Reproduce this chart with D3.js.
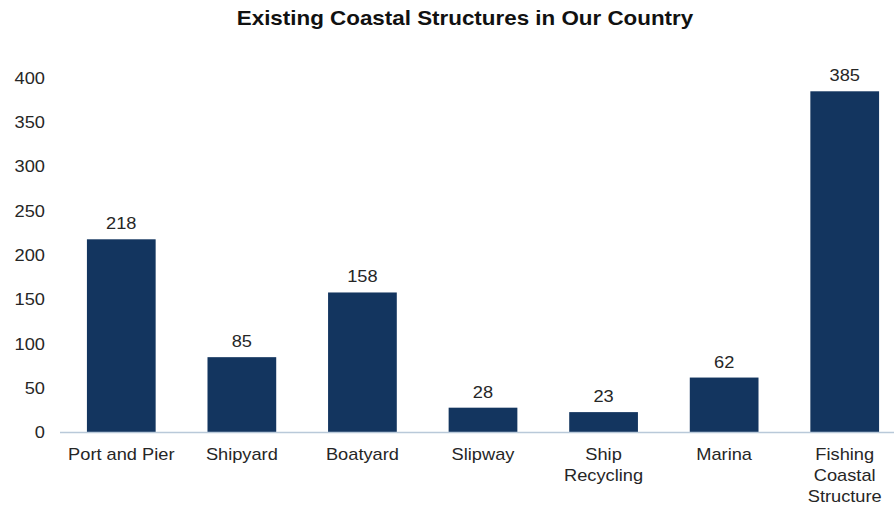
<!DOCTYPE html>
<html>
<head>
<meta charset="utf-8">
<script src="https://cdn.jsdelivr.net/npm/d3@7"></script>
<style>
  body { margin: 0; background: #fff; }
  text { font-family: "Liberation Sans", Arial, sans-serif; fill: #262626; }
</style>
</head>
<body>
<svg id="chart" width="894" height="508"></svg>
<script>
// data
const categories = ["Port and Pier", "Shipyard", "Boatyard", "Slipway", "Ship Recycling", "Marina", "Fishing Coastal Structure"];
const labelLines = [["Port and Pier"], ["Shipyard"], ["Boatyard"], ["Slipway"], ["Ship", "Recycling"], ["Marina"], ["Fishing", "Coastal", "Structure"]];
const values = [218, 85, 158, 28, 23, 62, 385];
const yTicks = [0, 50, 100, 150, 200, 250, 300, 350, 400];

const svg = d3.select("#chart");
const baseY = 432.5;
const topY = 78;
const stretch = 1.14; // the reference text is a bit wide

const x = d3.scaleBand()
  .domain(categories)
  .range([61, 905])
  .paddingInner(0.43)
  .paddingOuter(0.215);

const y = d3.scaleLinear()
  .domain([0, 400])
  .range([baseY, topY]);

function place(px, py) {
  return "translate(" + px + "," + py + ") scale(" + stretch + ",1)";
}

// title
svg.append("text")
  .attr("transform", "translate(465,25) scale(1.12,1)")
  .attr("text-anchor", "middle")
  .style("font-weight", "bold")
  .style("font-size", "20px")
  .style("fill", "#111")
  .text("Existing Coastal Structures in Our Country");

// y axis labels (no line)
svg.selectAll(".ytick")
  .data(yTicks)
  .enter()
  .append("text")
  .attr("class", "ytick")
  .attr("transform", d => place(45, y(d)))
  .attr("dy", "0.36em")
  .attr("text-anchor", "end")
  .style("font-size", "16px")
  .text(d => d);

// bars
svg.selectAll(".bar")
  .data(values)
  .enter()
  .append("rect")
  .attr("class", "bar")
  .attr("x", (d, i) => x(categories[i]))
  .attr("y", d => y(d))
  .attr("width", x.bandwidth())
  .attr("height", d => baseY - y(d))
  .style("fill", "#13355f");

// baseline
svg.append("line")
  .attr("x1", 60)
  .attr("x2", 894)
  .attr("y1", baseY)
  .attr("y2", baseY)
  .style("stroke", "#b9c9d9")
  .style("stroke-width", 1.5);

// value labels
svg.selectAll(".val")
  .data(values)
  .enter()
  .append("text")
  .attr("class", "val")
  .attr("transform", (d, i) => place(x(categories[i]) + x.bandwidth() / 2, y(d) - 10))
  .attr("text-anchor", "middle")
  .style("font-size", "16px")
  .text(d => d);

// category labels
const cat = svg.selectAll(".cat")
  .data(labelLines)
  .enter()
  .append("text")
  .attr("class", "cat")
  .attr("text-anchor", "middle")
  .style("font-size", "16px")
  .attr("transform", (d, i) => place(x(categories[i]) + x.bandwidth() / 2, 460));

cat.selectAll("tspan")
  .data(d => d)
  .enter()
  .append("tspan")
  .attr("x", 0)
  .attr("y", (d, j) => j * 21)
  .text(d => d);
</script>
</body>
</html>
